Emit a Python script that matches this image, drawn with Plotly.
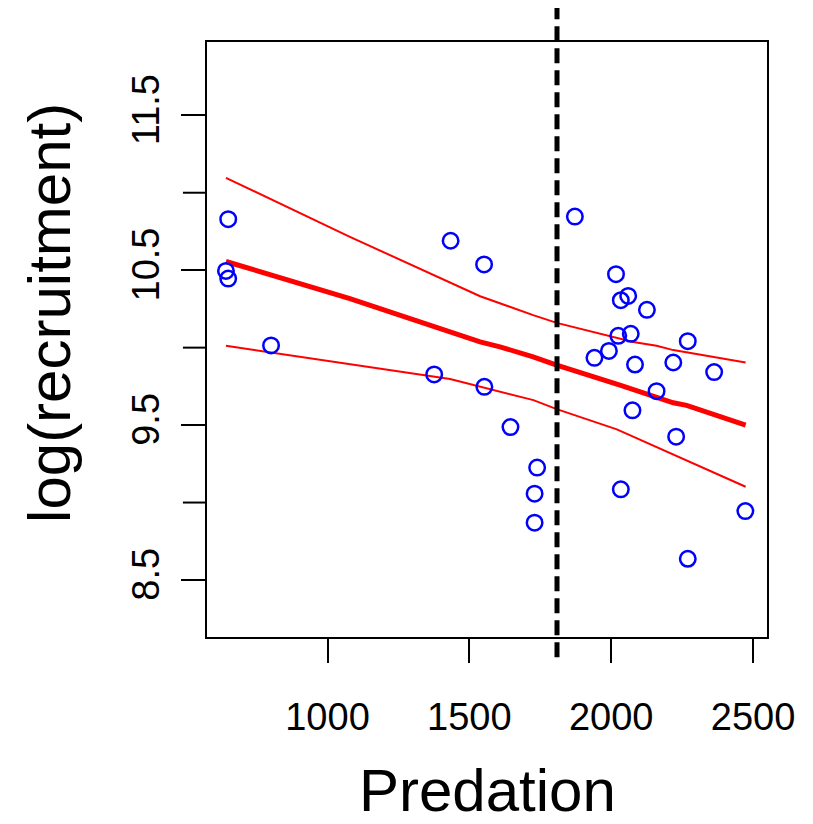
import plotly.graph_objects as go

# observed data (Predation, log(recruitment))
predation = [650, 642, 650, 801, 1434, 1552, 1376, 1553, 1645, 1739, 1730, 1730,
             1872, 2017, 2060, 2034, 2126, 2025, 2069, 2270, 1992, 1941, 2084,
             2219, 2363, 2160, 2075, 2229, 2034, 2473, 2270]
log_recruit = [10.829, 10.495, 10.446, 10.014, 10.690, 10.537, 9.827, 9.747, 9.487,
               9.226, 9.057, 8.870, 10.846, 10.474, 10.334, 10.306, 10.244, 10.076,
               10.089, 10.042, 9.979, 9.934, 9.891, 9.904, 9.842, 9.719, 9.595,
               9.425, 9.085, 8.945, 8.637]

# fitted line and confidence bounds
fit_x = [642, 1079, 1538, 1608, 1725, 1808, 2031, 2078, 2219, 2266, 2474]
fit_y = [10.556, 10.317, 10.037, 10.005, 9.941, 9.887, 9.758, 9.730, 9.644, 9.627, 9.500]
up_x = [642, 1079, 1538, 1608, 1725, 1808, 1996, 2078, 2160, 2219, 2474]
up_y = [11.096, 10.715, 10.332, 10.285, 10.210, 10.160, 10.074, 10.037, 10.012, 9.984, 9.904]
lo_x = [642, 1432, 1726, 1808, 2020, 2078, 2219, 2474]
lo_y = [10.012, 9.797, 9.661, 9.603, 9.472, 9.425, 9.313, 9.102]

threshold = 1809

x_ticks = [1000, 1500, 2000, 2500]
y_ticks = [8.5, 9.5, 10.5, 11.5]
y_minor = [9.0, 10.0, 11.0]

fig = go.Figure()
fig.add_trace(go.Scatter(x=up_x, y=up_y, mode="lines",
                         line=dict(color="#FF0000", width=2), showlegend=False))
fig.add_trace(go.Scatter(x=lo_x, y=lo_y, mode="lines",
                         line=dict(color="#FF0000", width=2), showlegend=False))
fig.add_trace(go.Scatter(x=fit_x, y=fit_y, mode="lines",
                         line=dict(color="#FF0000", width=5), showlegend=False))
fig.add_trace(go.Scatter(x=predation, y=log_recruit, mode="markers",
                         marker=dict(symbol="circle-open", size=15.5, color="#0000FF",
                                     line=dict(width=2.5, color="#0000FF")),
                         showlegend=False))

# dashed threshold line extending beyond the plot box
fig.add_shape(type="line", xref="x", yref="paper", x0=threshold, x1=threshold,
              y0=-0.034, y1=1.058, line=dict(color="black", width=5, dash="15px,7px"))

# unlabeled ticks at whole numbers on y
for v in y_minor:
    fig.add_shape(type="line", xref="paper", yref="y", x0=-0.043, x1=0, y0=v, y1=v,
                  line=dict(color="black", width=2))

font_family = "Liberation Sans, Arial, sans-serif"
fig.update_layout(
    width=813, height=824, autosize=False,
    margin=dict(l=199, r=54, t=34, b=195),
    plot_bgcolor="white", paper_bgcolor="white",
    font=dict(family=font_family, color="black"),
    xaxis=dict(range=[575.2, 2549.3], tickvals=x_ticks, ticktext=[str(t) for t in x_ticks],
               ticks="outside", ticklen=24, tickwidth=2, tickcolor="black",
               showline=True, linewidth=2, linecolor="black", mirror=True,
               showgrid=False, zeroline=False, tickfont=dict(size=38),
               ticklabelstandoff=21),
    yaxis=dict(range=[8.132, 11.973], tickvals=y_ticks, ticktext=[str(t) for t in y_ticks],
               ticks="outside", ticklen=24, tickwidth=2, tickcolor="black",
               showline=True, linewidth=2, linecolor="black", mirror=True,
               showgrid=False, zeroline=False, tickfont=dict(size=38),
               tickangle=-90, ticklabelstandoff=7),
    annotations=[
        dict(text="Predation", xref="paper", yref="paper", x=0.5, y=-0.258,
             xanchor="center", yanchor="middle", showarrow=False,
             font=dict(size=60, family=font_family)),
        dict(text="log(recruitment)", xref="paper", yref="paper", x=-0.28, y=0.545,
             xanchor="center", yanchor="middle", showarrow=False, textangle=-90,
             font=dict(size=60, family=font_family)),
    ],
)

fig.write_html("out.html")
